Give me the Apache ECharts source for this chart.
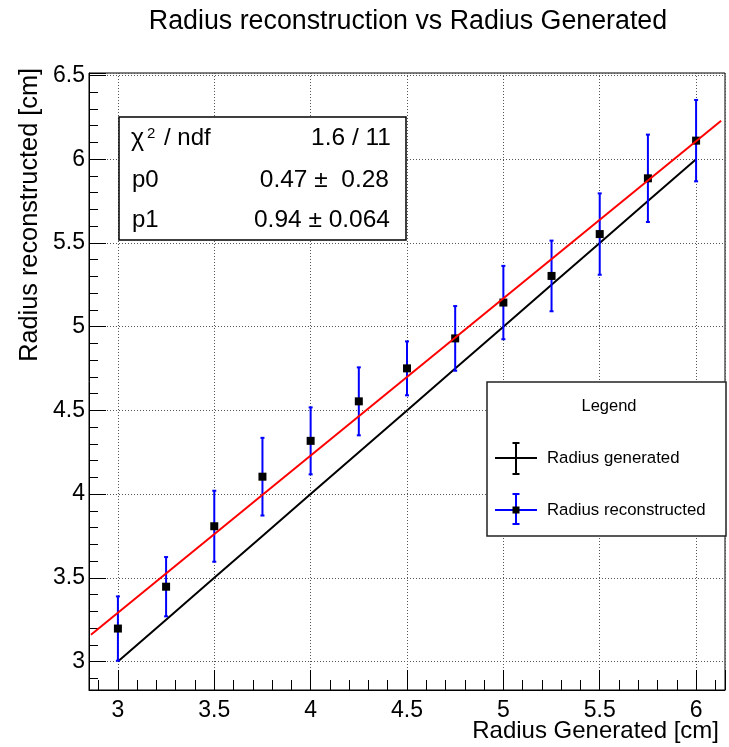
<!DOCTYPE html>
<html>
<head>
<meta charset="utf-8">
<script src="https://cdn.jsdelivr.net/npm/echarts@6/dist/echarts.min.js"></script>
<style>
html,body{margin:0;padding:0;background:#fff;}
#chart{width:729px;height:747px;}
</style>
</head>
<body>
<div id="chart"></div>
<script>
// ---- data ----
const radiusGenerated = [3, 3.25, 3.5, 3.75, 4, 4.25, 4.5, 4.75, 5, 5.25, 5.5, 5.75, 6];
const generatedY      = [3, 3.25, 3.5, 3.75, 4, 4.25, 4.5, 4.75, 5, 5.25, 5.5, 5.75, 6];
const reconstructedY  = [3.197, 3.447, 3.808, 4.104, 4.318, 4.554, 4.751, 4.930, 5.144, 5.303, 5.553, 5.886, 6.111];
const reconstructedErr= [0.192, 0.177, 0.212, 0.232, 0.200, 0.203, 0.161, 0.193, 0.219, 0.211, 0.243, 0.261, 0.243];
const fitX = [2.86, 6.13];
const fitY = [3.16, 6.23];
const xRange = [2.85, 6.15];
const yRange = [2.83, 6.515];
const statsLabels = ['p0', 'p1'];
const statsValues = ['1.6 / 11', '0.47 \u00b1  0.28', '0.94 \u00b1 0.064'];
const titleText = 'Radius reconstruction vs Radius Generated';
const xTitle = 'Radius Generated [cm]';
const yTitle = 'Radius reconstructed [cm]';
const legendTitle = 'Legend';
const legendNames = ['Radius generated', 'Radius reconstructed'];

const FONT = 'Liberation Sans, Arial, Helvetica, sans-serif';
const chart = echarts.init(document.getElementById('chart'), null, {renderer: 'canvas'});

const genData = radiusGenerated.map((x, i) => [x, generatedY[i]]);
const recData = radiusGenerated.map((x, i) => [x, reconstructedY[i], reconstructedErr[i]]);
const fitData = fitX.map((x, i) => [x, fitY[i]]);

function axisCommon(tickLen, minorLen, margin) {
  return {
    type: 'value',
    axisLine: {show: true, onZero: false, lineStyle: {color: '#000', width: 1}},
    axisTick: {show: true, inside: true, length: tickLen, lineStyle: {color: '#000', width: 1}},
    minorTick: {show: true, splitNumber: 5, length: minorLen, lineStyle: {color: '#000', width: 1}},
    splitLine: {show: true, lineStyle: {color: '#555', width: 1, type: [1, 2]}},
    axisLabel: {show: true, color: '#000', fontSize: 23, fontFamily: FONT, margin: margin,
                showMinLabel: false, showMaxLabel: false, hideOverlap: false}
  };
}

const blue = '#0000ff';
const stLeft = 119, stTop = 117, stW = 287, stH = 123;
const lgLeft = 487, lgTop = 382, lgW = 239, lgH = 154;

const option = {
  animation: false,
  backgroundColor: '#fff',
  grid: {left: 89, top: 73, width: 636, height: 617, show: true, borderColor: '#000', borderWidth: 1,
         containLabel: false, outerBoundsMode: 'none'},
  xAxis: Object.assign(axisCommon(20, 10, 9), {min: xRange[0], max: xRange[1], splitNumber: 7}),
  yAxis: Object.assign(axisCommon(17, 9, 4), {min: yRange[0], max: yRange[1], splitNumber: 7}),
  series: [
    {
      type: 'line', data: genData, symbol: 'none', showSymbol: false,
      lineStyle: {color: '#000', width: 2}, z: 2, silent: true
    },
    {
      type: 'custom', data: recData, encode: {x: 0, y: 1}, z: 3, silent: true,
      renderItem: function (params, api) {
        const x = api.value(0), y = api.value(1), e = api.value(2);
        const t = api.coord([x, y + e]);
        const b = api.coord([x, y - e]);
        const cw = 2;
        const st = {stroke: blue, lineWidth: 2};
        return {type: 'group', children: [
          {type: 'line', shape: {x1: t[0], y1: t[1], x2: b[0], y2: b[1]}, style: st},
          {type: 'line', shape: {x1: t[0] - cw, y1: t[1], x2: t[0] + cw, y2: t[1]}, style: st},
          {type: 'line', shape: {x1: b[0] - cw, y1: b[1], x2: b[0] + cw, y2: b[1]}, style: st}
        ]};
      }
    },
    {
      type: 'scatter', data: recData.map(d => [d[0], d[1]]), symbol: 'rect', symbolSize: 8,
      itemStyle: {color: '#000', opacity: 1}, z: 4, silent: true
    },
    {
      type: 'line', data: fitData, symbol: 'none', showSymbol: false,
      lineStyle: {color: '#ff0000', width: 2}, z: 5, silent: true
    }
  ],
  graphic: [
    {type: 'text', z: 10, x: 408, y: 22, style: {text: titleText, fill: '#000', font: '26.8px ' + FONT, align: 'center', verticalAlign: 'middle'}},
    {type: 'text', z: 10, x: 719, y: 731, style: {text: xTitle, fill: '#000', font: '24px ' + FONT, align: 'right', verticalAlign: 'middle'}},
    {type: 'text', z: 10, x: 30, y: 68, rotation: Math.PI / 2, style: {text: yTitle, fill: '#000', font: '25.3px ' + FONT, align: 'right', verticalAlign: 'middle'}},
    // stats box
    {type: 'rect', z: 10, shape: {x: stLeft, y: stTop, width: stW, height: stH}, style: {fill: '#fff', stroke: '#000', lineWidth: 1.5}},
    {type: 'text', z: 11, x: 131, y: 139, style: {text: '\u03c7', fill: '#000', font: '25px ' + FONT, align: 'left', verticalAlign: 'middle'}},
    {type: 'text', z: 11, x: 147, y: 134, style: {text: '2', fill: '#000', font: '15px ' + FONT, align: 'left', verticalAlign: 'middle'}},
    {type: 'text', z: 11, x: 164, y: 138, style: {text: '/ ndf', fill: '#000', font: '24px ' + FONT, align: 'left', verticalAlign: 'middle'}},
    {type: 'text', z: 11, x: 132, y: 180, style: {text: statsLabels[0], fill: '#000', font: '24px ' + FONT, align: 'left', verticalAlign: 'middle'}},
    {type: 'text', z: 11, x: 132, y: 220, style: {text: statsLabels[1], fill: '#000', font: '24px ' + FONT, align: 'left', verticalAlign: 'middle'}},
    {type: 'text', z: 11, x: 391, y: 138, style: {text: statsValues[0], fill: '#000', font: '24.5px ' + FONT, align: 'right', verticalAlign: 'middle'}},
    {type: 'text', z: 11, x: 389, y: 180, style: {text: statsValues[1], fill: '#000', font: '24.5px ' + FONT, align: 'right', verticalAlign: 'middle'}},
    {type: 'text', z: 11, x: 390, y: 220, style: {text: statsValues[2], fill: '#000', font: '24.5px ' + FONT, align: 'right', verticalAlign: 'middle'}},
    // legend box
    {type: 'rect', z: 10, shape: {x: lgLeft, y: lgTop, width: lgW, height: lgH}, style: {fill: '#fff', stroke: '#222', lineWidth: 1.5}},
    {type: 'text', z: 11, x: 609, y: 406, style: {text: legendTitle, fill: '#000', font: '16.5px ' + FONT, align: 'center', verticalAlign: 'middle'}},
    {type: 'line', z: 11, shape: {x1: 495, y1: 458, x2: 537, y2: 458}, style: {stroke: '#000', lineWidth: 2}},
    {type: 'line', z: 11, shape: {x1: 516, y1: 443, x2: 516, y2: 474}, style: {stroke: '#000', lineWidth: 2}},
    {type: 'line', z: 11, shape: {x1: 512.5, y1: 443, x2: 519.5, y2: 443}, style: {stroke: '#000', lineWidth: 2}},
    {type: 'line', z: 11, shape: {x1: 512.5, y1: 474, x2: 519.5, y2: 474}, style: {stroke: '#000', lineWidth: 2}},
    {type: 'text', z: 11, x: 547, y: 458, style: {text: legendNames[0], fill: '#000', font: '16.8px ' + FONT, align: 'left', verticalAlign: 'middle'}},
    {type: 'line', z: 11, shape: {x1: 495, y1: 510, x2: 537, y2: 510}, style: {stroke: blue, lineWidth: 2}},
    {type: 'line', z: 11, shape: {x1: 516, y1: 494, x2: 516, y2: 524}, style: {stroke: blue, lineWidth: 2}},
    {type: 'line', z: 11, shape: {x1: 512.5, y1: 494, x2: 519.5, y2: 494}, style: {stroke: blue, lineWidth: 2}},
    {type: 'line', z: 11, shape: {x1: 512.5, y1: 524, x2: 519.5, y2: 524}, style: {stroke: blue, lineWidth: 2}},
    {type: 'rect', z: 12, shape: {x: 512.5, y: 506.5, width: 7, height: 7}, style: {fill: '#000'}},
    {type: 'text', z: 11, x: 547, y: 510, style: {text: legendNames[1], fill: '#000', font: '16.8px ' + FONT, align: 'left', verticalAlign: 'middle'}}
  ]
};
chart.setOption(option);
</script>
</body>
</html>
